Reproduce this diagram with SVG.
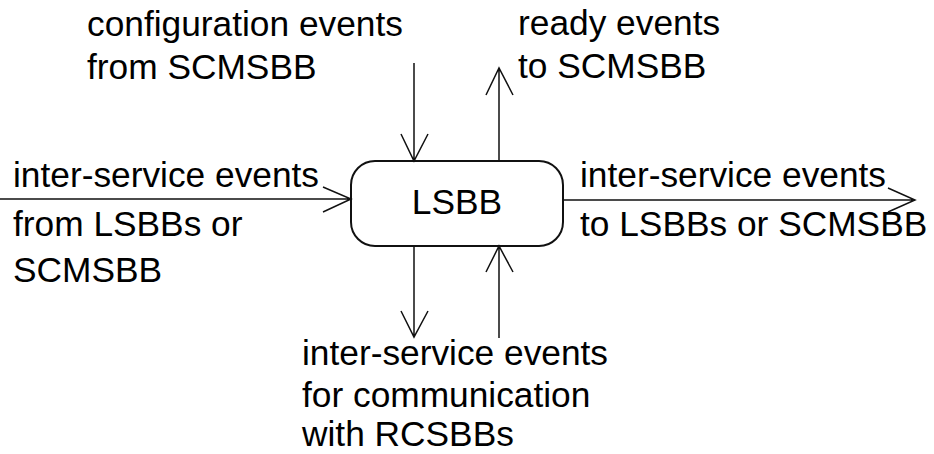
<svg xmlns="http://www.w3.org/2000/svg" width="934" height="454" viewBox="0 0 934 454">
<style>
text { font-family: "Liberation Sans", Arial, sans-serif; font-size: 35.3px; fill: #000; }
.ln { stroke: #111; stroke-width: 1.5; fill: none; }
</style>
<rect width="934" height="454" fill="#fff"/>
<g id="node-lsbb">
<rect x="351" y="161" width="212" height="85" rx="24" ry="24" fill="#fff" stroke="#111" stroke-width="2"/>
<text x="457" y="214" text-anchor="middle">LSBB</text>
</g>
<g id="connectors">
<path class="ln" d="M0 199 H351 M323 187 L351 199 L323 212"/>
<path class="ln" d="M563 200 H915 M888 188 L915 200 L888 212"/>
<path class="ln" d="M414 63 V161 M401 134 L414 161 L428 134"/>
<path class="ln" d="M499 161 V68 M486 95 L499 68 L513 95"/>
<path class="ln" d="M414 246 V337 M401 311 L414 337 L428 311"/>
<path class="ln" d="M499 338 V246 M486 272 L499 246 L513 272"/>
</g>
<g id="label-config">
<text x="87" y="36">configuration events</text>
<text x="87" y="79">from SCMSBB</text>
</g>
<g id="label-ready">
<text x="518" y="35">ready events</text>
<text x="518" y="78">to SCMSBB</text>
</g>
<g id="label-left">
<text x="13" y="187">inter-service events</text>
<text x="13" y="236">from LSBBs or</text>
<text x="13" y="282">SCMSBB</text>
</g>
<g id="label-right">
<text x="580" y="187">inter-service events</text>
<text x="580" y="236">to LSBBs or SCMSBB</text>
</g>
<g id="label-bottom">
<text x="302" y="365">inter-service events</text>
<text x="302" y="407">for communication</text>
<text x="302" y="446">with RCSBBs</text>
</g>
</svg>
